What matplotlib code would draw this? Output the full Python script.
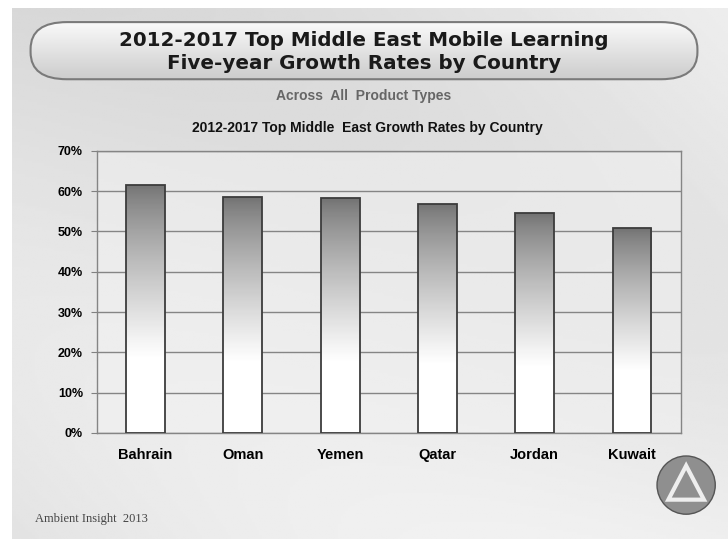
import numpy as np
import matplotlib
matplotlib.use("Agg")
import matplotlib.pyplot as plt
from matplotlib.patches import FancyBboxPatch, Circle, Polygon

# data
countries = ["Bahrain", "Oman", "Yemen", "Qatar", "Jordan", "Kuwait"]
growth = [61.6, 58.6, 58.2, 56.9, 54.6, 50.9]
yticks = [0, 10, 20, 30, 40, 50, 60, 70]

fig = plt.figure(figsize=(7.28, 5.39), dpi=100)
fig.patch.set_facecolor("white")

# background panel with a soft gradient
bg = fig.add_axes([0.016, 0, 0.984, 0.985])
bg.set_axis_off()
yy, xx = np.mgrid[0:1:200j, 0:1:300j]
shade = 0.89 + 0.04 * xx - 0.02 * yy + 0.03 * np.sin(3 * xx + 4 * yy)
bg.imshow(shade, cmap="gray", vmin=0, vmax=1, extent=[0, 1, 0, 1],
          aspect="auto", origin="lower")
bg.set_xlim(0, 1)
bg.set_ylim(0, 1)

# rounded title banner
pill = FancyBboxPatch((0.042, 0.853), 0.916, 0.106,
                      boxstyle="round,pad=0,rounding_size=0.05",
                      transform=fig.transFigure, facecolor="none",
                      edgecolor="#7a7a7a", linewidth=1.5, zorder=3)
fig.patches.append(pill)
grad = np.linspace(0.98, 0.80, 100).reshape(-1, 1)
im = bg.imshow(grad, cmap="gray", vmin=0, vmax=1, extent=[0.042, 0.958, 0.853, 0.959],
               aspect="auto", origin="upper", transform=fig.transFigure, zorder=2)
im.set_clip_path(pill)

fig.text(0.5, 0.924, "2012-2017 Top Middle East Mobile Learning",
         ha="center", va="center", fontsize=14.3, fontweight="bold", color="#1a1a1a")
fig.text(0.5, 0.883, "Five-year Growth Rates by Country",
         ha="center", va="center", fontsize=14.3, fontweight="bold", color="#1a1a1a")
fig.text(0.5, 0.822, "Across  All  Product Types", ha="center", va="center",
         fontsize=10, fontweight="bold", color="#666666", family="Liberation Sans")
fig.text(0.505, 0.762, "2012-2017 Top Middle  East Growth Rates by Country",
         ha="center", va="center", fontsize=10, fontweight="bold", color="#111111",
         family="Liberation Sans")

# main chart
ax = fig.add_axes([0.133, 0.197, 0.802, 0.523])
ax.set_facecolor((0.95, 0.95, 0.95, 0.5))
x = np.arange(len(countries))
bars = ax.bar(x, growth, width=0.4, facecolor="none", edgecolor="#3c3c3c",
              linewidth=1.3, zorder=3)
t = np.linspace(0, 1, 100)
bar_grad = (0.45 + 0.55 * np.clip(t / 0.7, 0, 1) ** 0.8).reshape(-1, 1)
for b in bars:
    x0, w, h = b.get_x(), b.get_width(), b.get_height()
    g = ax.imshow(bar_grad, cmap="gray", vmin=0, vmax=1,
                  extent=[x0, x0 + w, 0, h], aspect="auto", origin="upper", zorder=2)
    g.set_clip_path(b)

ax.set_xlim(-0.5, len(countries) - 0.5)
ax.set_ylim(0, 70)
ax.set_yticks(yticks)
ax.set_yticklabels([f"{t}%" for t in yticks], fontsize=9, fontweight="bold",
                   family="Liberation Sans")
ax.set_xticks(x)
ax.set_xticklabels(countries, fontsize=10.5, fontweight="bold", family="Liberation Sans")
ax.tick_params(axis="x", length=0, pad=11)
ax.tick_params(axis="y", length=4, color="#808080", pad=6)
ax.yaxis.grid(True, color="#858585", linewidth=1)
ax.set_axisbelow(True)
for s in ax.spines.values():
    s.set_color("#858585")
    s.set_linewidth(1)

# footer
fig.text(0.048, 0.037, "Ambient Insight  2013", fontsize=9, color="#444444",
         family="Liberation Serif", va="center")

# simple logo
logo = fig.add_axes([0.895, 0.04, 0.095, 0.12])
logo.set_axis_off()
logo.set_xlim(-1, 1)
logo.set_ylim(-1, 1)
logo.set_aspect("equal")
logo.add_patch(Circle((0, 0), 0.9, facecolor="#8f8f8f", edgecolor="#555555", lw=1))
logo.add_patch(Polygon([(-0.55, -0.45), (0.55, -0.45), (0.0, 0.6)], closed=True,
                       facecolor="none", edgecolor="#eeeeee", lw=3))

fig.savefig("out.png", dpi=100)
